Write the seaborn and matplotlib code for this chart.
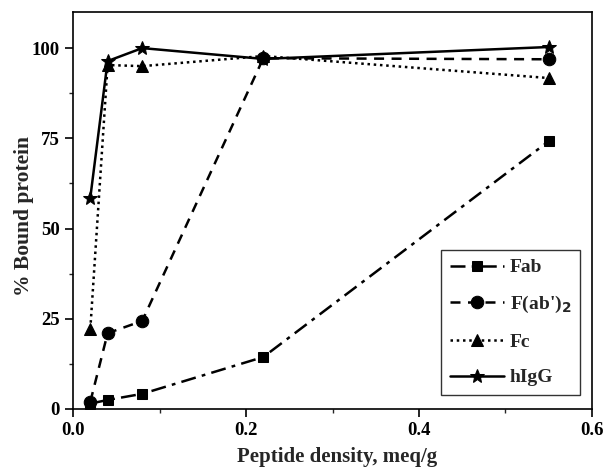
import matplotlib
matplotlib.use("Agg")
import matplotlib.pyplot as plt
import seaborn as sns
import pandas as pd
from matplotlib.ticker import MultipleLocator, FormatStrFormatter

sns.set_style("ticks")
plt.rcParams['font.family'] = ['Liberation Serif', 'DejaVu Serif']
plt.rcParams['font.weight'] = 'bold'

density = [0.02, 0.04, 0.08, 0.22, 0.55]
fab = [1.5, 2.5, 4.2, 14.4, 74.2]
fab2 = [2.0, 21.0, 24.4, 97.2, 96.9]
fc = [22.2, 95.3, 95.0, 97.8, 91.7]
higg = [58.6, 96.4, 100.0, 97.0, 100.3]

series = [
    ("Fab", fab, (0, (6, 2.5, 1.5, 2.5)), "s", 7),
    ("F(ab')$_\\mathbf{2}$", fab2, (0, (4, 3)), "o", 9),
    ("Fc", fc, (0, (1, 1.5)), "^", 9),
    ("hIgG", higg, "-", "*", 10),
]

fig = plt.figure(figsize=(6.05, 4.67), dpi=100)
ax = fig.add_axes([0.1207, 0.1242, 0.8578, 0.8501])

for name, vals, ls, mk, ms in series:
    df = pd.DataFrame({"x": density, "y": vals})
    sns.lineplot(data=df, x="x", y="y", ax=ax, color="black", linewidth=1.8,
                 linestyle=ls, marker=mk, markersize=ms, markeredgecolor="black",
                 markerfacecolor="black", label=name)

ax.set_xlim(0, 0.6)
ax.set_ylim(0, 110)
ax.xaxis.set_major_locator(MultipleLocator(0.2))
ax.xaxis.set_minor_locator(MultipleLocator(0.1))
ax.yaxis.set_major_locator(MultipleLocator(25))
ax.yaxis.set_minor_locator(MultipleLocator(12.5))
ax.xaxis.set_major_formatter(FormatStrFormatter("%.1f"))
ax.tick_params(which="major", direction="out", length=6, width=1.2, labelsize=13.5, colors="black")
ax.tick_params(which="minor", direction="out", length=3, width=1.0)
for lab in ax.get_xticklabels() + ax.get_yticklabels():
    lab.set_fontweight("bold")
for sp in ax.spines.values():
    sp.set_visible(True)
    sp.set_linewidth(1.2)
    sp.set_color("black")

ax.set_xlabel("Peptide density, meq/g", fontsize=15, fontweight="bold")
ax.set_ylabel("% Bound protein", fontsize=15.5, fontweight="bold")
ax.xaxis.set_label_coords(0.508, -0.096)
ax.yaxis.set_label_coords(-0.075, 0.485)

leg = ax.legend(loc="lower right", bbox_to_anchor=(0.977, 0.035), borderaxespad=0,
                frameon=True, fancybox=False,
                edgecolor="black", fontsize=14, handlelength=2.8, labelspacing=0.92,
                borderpad=0.45, handletextpad=0.3)
leg.get_frame().set_linewidth(1.0)
for t in leg.get_texts():
    t.set_fontweight("bold")

fig.savefig("out.png", dpi=100)
